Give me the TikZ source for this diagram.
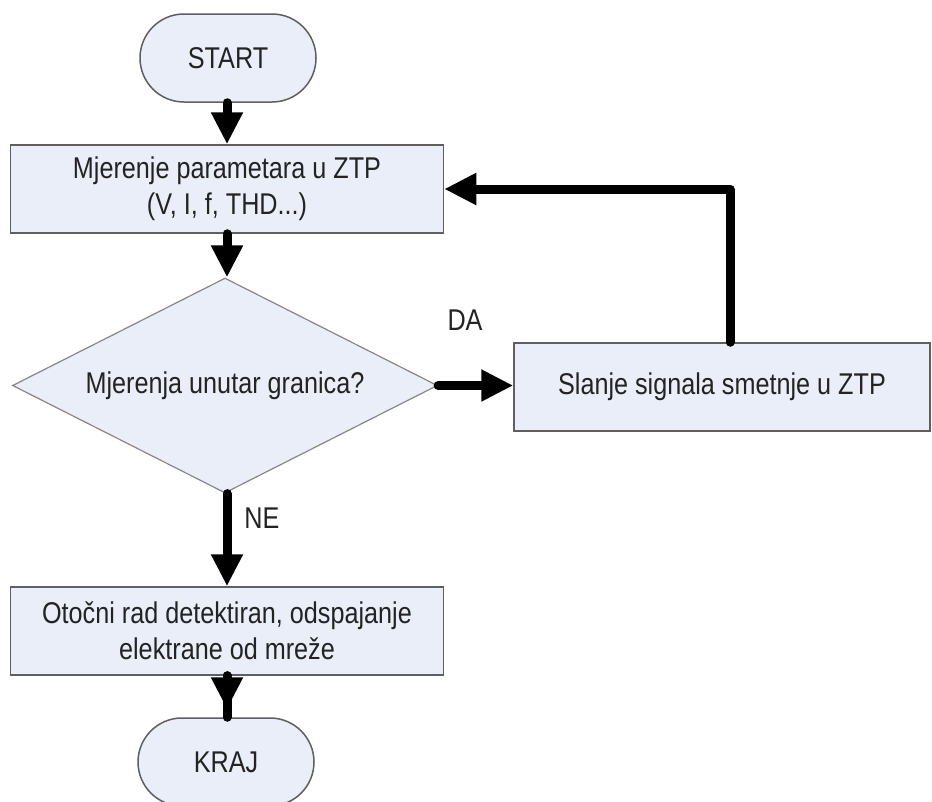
\documentclass[tikz,border=0pt]{standalone}
\usepackage{fontspec}
\setmainfont{Liberation Sans}[FakeStretch=0.84]
\usetikzlibrary{arrows.meta,shapes.geometric}
\definecolor{boxfill}{RGB}{233,238,248}
\definecolor{boxline}{RGB}{95,95,95}
\definecolor{txt}{RGB}{35,35,35}
\begin{document}
\begin{tikzpicture}[x=1pt,y=-1pt,
  every node/.style={font=\fontsize{30}{36}\selectfont, text=txt},
  procbox/.style={draw=boxline, fill=boxfill, line width=1.5pt, minimum height=88pt, inner sep=0pt, align=center},
  termbox/.style={draw=boxline, fill=boxfill, line width=1.5pt, rounded corners=44pt, minimum width=176pt, minimum height=88pt, inner sep=0pt},
  decision/.style={diamond, draw=boxline!75, fill=boxfill, line width=1.2pt, minimum width=425pt, minimum height=215pt, inner sep=0pt, aspect=1.98},
  conn/.style={line width=9pt, line cap=round, line join=round},
  flow/.style={conn, -{Triangle[length=32pt,width=30pt]}},
  lbl/.style={inner sep=0pt}
]
\useasboundingbox (0,0) rectangle (932,801);
\fill[white] (0,0) rectangle (932,801);

\node[termbox] (start) at (228,58) {START};
\node[procbox, minimum width=433pt] (meas) at (227,189) {Mjerenje parametara u ZTP\\(V, I, f, THD...)};
\node[decision] (dec) at (225,385.5) {Mjerenja unutar granica?};
\node[procbox, minimum width=416pt] (sig) at (722,387) {Slanje signala smetnje u ZTP};
\node[procbox, minimum width=433pt] (isl) at (227,631) {Otočni rad detektiran, odspajanje\\elektrane od mreže};
\node[termbox] (end) at (226,762) {KRAJ};

\node[lbl] (da) at (465,320) {DA};
\node[lbl] (ne) at (262,518) {NE};

\coordinate (corner) at (730,189);

\draw[flow] (start.south -| meas.north) -- (meas.north);
\draw[flow] (meas.south) -- (meas.south |- dec.north);
\draw[flow] (dec.east) -- (dec.east -| sig.west);
\draw[flow] (sig.north -| corner) -- (corner) -- (corner -| meas.east);
\draw[flow] (dec.south -| isl.north) -- (isl.north);
\draw[flow, shorten >=8pt] (isl.south) -- (isl.south |- end.north);
\draw[conn] (isl.south) -- (isl.south |- end.north);
\end{tikzpicture}
\end{document}
